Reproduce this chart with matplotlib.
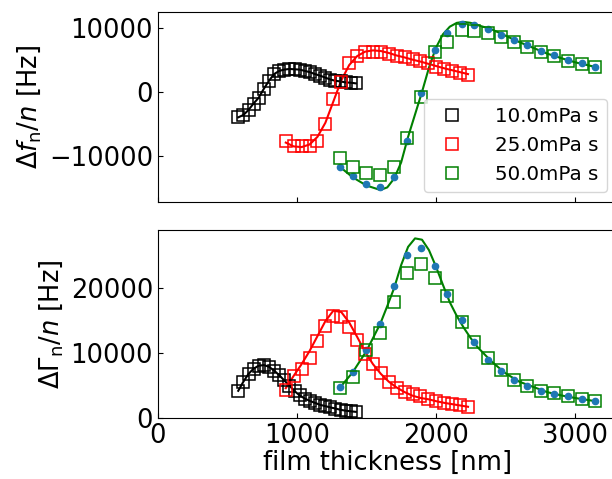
import matplotlib
matplotlib.use("Agg")
import matplotlib.pyplot as plt

# ---- data ----
# 10.0 mPa s
x_10 = [578, 615, 652, 688, 725, 762, 799, 836, 873, 909, 946, 983,
        1020, 1057, 1093, 1130, 1167, 1204, 1241, 1277, 1314, 1351, 1388, 1424]
df_10 = [-3960, -3590, -2800, -1800, -900, 500, 1750, 2800, 3300, 3500, 3600, 3550,
         3500, 3300, 3100, 2800, 2550, 2250, 1950, 1750, 1650, 1500, 1450, 1350]
dg_10 = [4200, 5600, 6800, 7600, 8050, 8150, 7900, 7300, 6600, 5800, 5000, 4150,
         3500, 3000, 2650, 2350, 2050, 1850, 1650, 1480, 1280, 1150, 1050, 970]

# 25.0 mPa s
x_25 = [920, 977, 1034, 1091, 1148, 1205, 1262, 1319, 1376, 1433, 1490, 1547,
        1604, 1661, 1718, 1775, 1832, 1889, 1946, 2003, 2060, 2117, 2174, 2231]
df_25 = [-7600, -8440, -8440, -8440, -7600, -5000, -1150, 1610, 4480, 5625, 6300, 6300,
         6200, 5940, 5680, 5420, 5100, 4840, 4480, 3960, 3590, 3330, 3020, 2660]
dg_25 = [4400, 6500, 7600, 9300, 11800, 14200, 15700, 15500, 14000, 12000, 9800, 8300,
         7000, 5600, 4700, 4050, 3650, 3350, 2950, 2600, 2350, 2200, 2000, 1750]
df_25_fit = [-7900, -8500, -8600, -8200, -7000, -4800, -1500, 1800, 4200, 5600, 6300, 6500,
             6400, 6100, 5700, 5400, 5050, 4750, 4400, 4050, 3700, 3400, 3100, 2800]
dg_25_fit = [4600, 6500, 8300, 10300, 12600, 14900, 16500, 16300, 14700, 12500, 10200, 8300,
             6800, 5600, 4700, 4000, 3450, 3100, 2900, 2600, 2350, 2150, 1950, 1750]

# 50.0 mPa s
x_50 = [1310, 1405, 1500, 1597, 1700, 1790, 1895, 1990, 2080, 2185,
        2276, 2372, 2468, 2561, 2657, 2755, 2851, 2952, 3048, 3144]
df_50 = [-10360, -11670, -12600, -12970, -11670, -7240, -830, 6300, 7880, 9690,
         9580, 9250, 8650, 7880, 7090, 6300, 5700, 4900, 4375, 3850]
dg_50 = [4560, 6300, 10460, 13100, 17800, 22260, 23600, 21500, 18700, 14800,
         11700, 9200, 7400, 5900, 4950, 4200, 3800, 3400, 2900, 2650]
df_50_calc = [-11670, -13080, -14370, -14790, -13230, -7600, -210, 6560, 9270, 10625,
              10470, 9900, 8950, 8125, 7340, 6450, 5780, 5000, 4480, 3960]
dg_50_calc = [4800, 7100, 10500, 14400, 20300, 25000, 26200, 23300, 19100, 15100,
              11700, 9000, 7300, 5800, 4900, 4200, 3750, 3350, 2900, 2700]

x_50_fit = [1310, 1400, 1500, 1600, 1650, 1700, 1750, 1800, 1850, 1900, 1950, 2000,
            2050, 2100, 2150, 2200, 2250, 2300, 2400, 2500, 2600, 2700, 2800, 2900,
            3000, 3150]
df_50_fit = [-11700, -13300, -14600, -15300, -14900, -13500, -11000, -7000, -3500, 0, 3800, 6900,
             9000, 10200, 10800, 10950, 10800, 10450, 9800, 8800, 7800, 6900, 6000, 5300,
             4650, 3900]
dg_50_fit = [4700, 7000, 10300, 14500, 17200, 20000, 23500, 26300, 27600, 27400, 25800, 23300,
             20500, 17800, 15700, 13900, 12300, 10900, 8700, 6900, 5600, 4800, 4000, 3500,
             3100, 2600]

labels = ["10.0mPa s", "25.0mPa s", "50.0mPa s"]

plt.rcParams["font.size"] = 18.5
plt.rcParams["xtick.direction"] = "in"
plt.rcParams["ytick.direction"] = "in"

fig = plt.figure(figsize=(6.12, 4.79), dpi=100)
ax1 = fig.add_axes([0.258, 0.578, 0.7495, 0.397])
ax2 = fig.add_axes([0.258, 0.127, 0.7495, 0.393], sharex=ax1)

sq = dict(marker="s", mfc="none", ls="none", ms=9, mew=1.1)

# top: frequency shift
ax1.plot(x_10, df_10, color="black", lw=1.5)
ax1.plot(x_25, df_25_fit, color="red", lw=1.5)
ax1.plot(x_50_fit, df_50_fit, color="green", lw=1.5)
ax1.plot(x_50, df_50_calc, "o", color="C0", ms=4.5)
ax1.plot(x_10, df_10, mec="black", label=labels[0], **sq)
ax1.plot(x_25, df_25, mec="red", label=labels[1], **sq)
ax1.plot(x_50, df_50, mec="green", label=labels[2], **sq)

# bottom: dissipation
ax2.plot(x_10, dg_10, color="black", lw=1.5)
ax2.plot(x_25, dg_25_fit, color="red", lw=1.5)
ax2.plot(x_50_fit, dg_50_fit, color="green", lw=1.5)
ax2.plot(x_50, dg_50_calc, "o", color="C0", ms=4.5)
ax2.plot(x_10, dg_10, mec="black", **sq)
ax2.plot(x_25, dg_25, mec="red", **sq)
ax2.plot(x_50, dg_50, mec="green", **sq)

ax1.set_xlim(0, 3300)
ax1.set_ylim(-17200, 12500)
ax2.set_ylim(0, 28900)
ax1.set_yticks([-10000, 0, 10000])
ax2.set_yticks([0, 10000, 20000])
ax2.set_xticks([0, 1000, 2000, 3000])
ax1.tick_params(labelbottom=False)

ax1.set_ylabel(r"$\Delta f_{\rm n}/n$ [Hz]")
ax2.set_ylabel(r"$\Delta\Gamma_{\rm n}/n$ [Hz]")
ax2.set_xlabel("film thickness [nm]", labelpad=1)

ax1.legend(loc="lower right", fontsize=14.3, handletextpad=1.2)

fig.savefig("out.png", dpi=100)
